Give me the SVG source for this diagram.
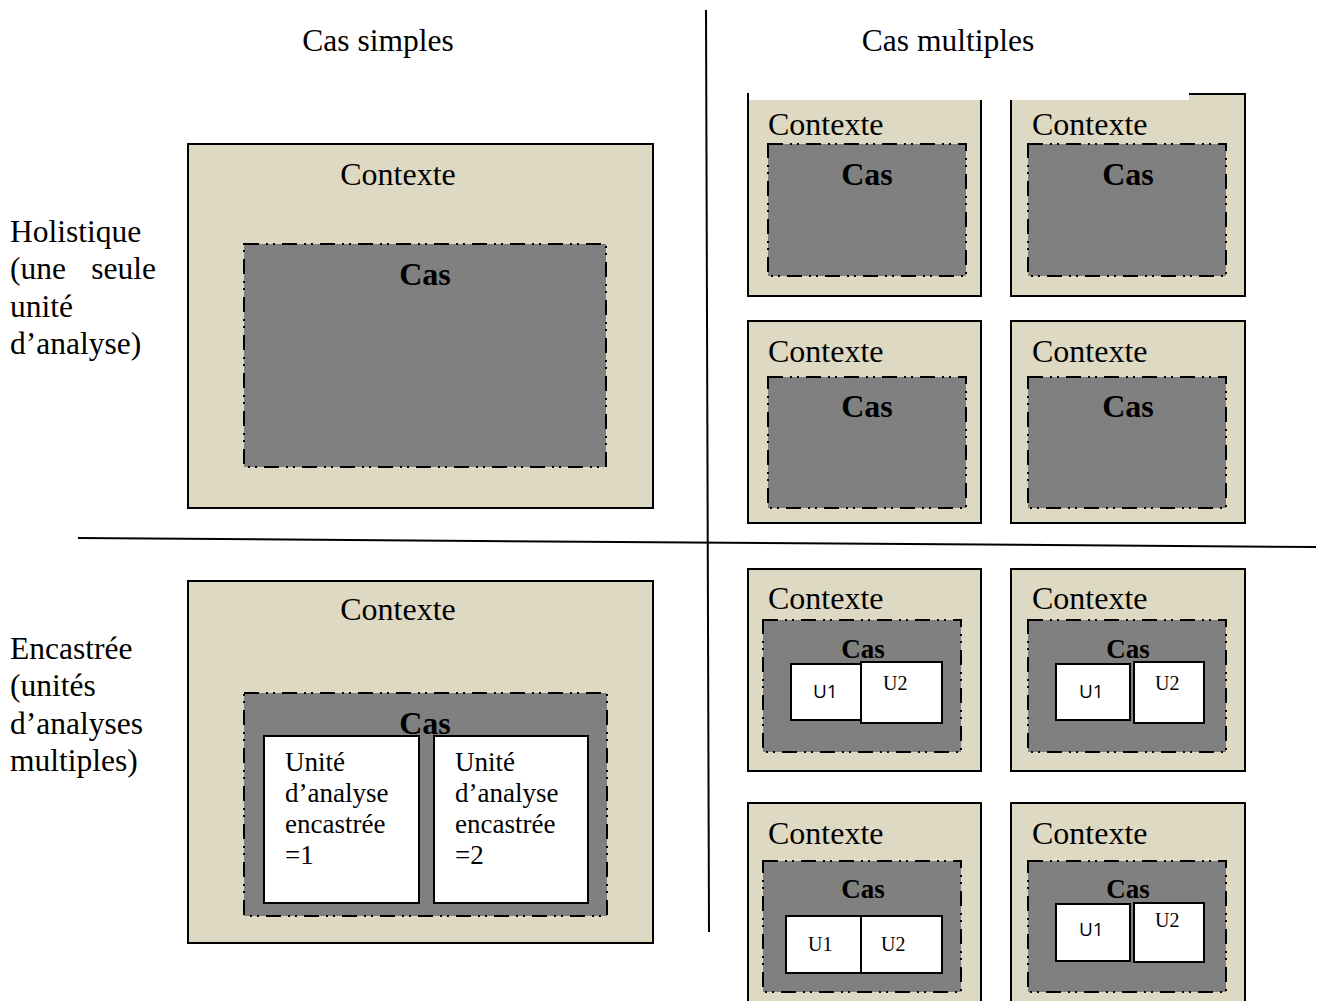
<svg xmlns="http://www.w3.org/2000/svg" width="1322" height="1001" viewBox="0 0 1322 1001">
<style>
.ctx{fill:#DDD9C3;stroke:#000;stroke-width:2}
.cas{fill:#808080;stroke:#000;stroke-width:2;stroke-dasharray:15 7 2 5 2 7}
.unit{fill:#fff;stroke:#000;stroke-width:2}
.t{font-family:"Liberation Serif","Times New Roman",serif;fill:#000}
.h{font-size:31.5px}
.c{font-size:32px}
.cb{font-size:32px;font-weight:bold}
.cbs{font-size:27px;font-weight:bold}
.u{font-size:27px}
.s{font-family:"Open Sans","Liberation Sans",sans-serif;font-size:19px}
.ss{font-size:20px}
</style>
<rect width="1322" height="1001" fill="#fff"/>
<g id="connectors" stroke="#000" stroke-width="2" fill="none">
<line x1="706" y1="10" x2="709" y2="932"/>
<line x1="78" y1="538" x2="1316" y2="547"/>
</g>
<g id="headers" class="t h">
<text x="378" y="51" text-anchor="middle">Cas simples</text>
<text x="948" y="51" text-anchor="middle">Cas multiples</text>
</g>
<g id="row-labels" class="t h">
<text x="10" y="242">Holistique</text>
<text x="10" y="279">(une</text>
<text x="156" y="279" text-anchor="end">seule</text>
<text x="10" y="317">unité</text>
<text x="10" y="354">d’analyse)</text>
<text x="10" y="659">Encastrée</text>
<text x="10" y="696">(unités</text>
<text x="10" y="734">d’analyses</text>
<text x="10" y="771">multiples)</text>
</g>
<g id="simple-holistic">
<rect class="ctx" x="188" y="144" width="465" height="364"/>
<text class="t c" x="398" y="185" text-anchor="middle">Contexte</text>
<rect class="cas" x="244" y="244" width="362" height="223"/>
<text class="t cb" x="425" y="285" text-anchor="middle">Cas</text>
</g>
<g id="simple-embedded">
<rect class="ctx" x="188" y="581" width="465" height="362"/>
<text class="t c" x="398" y="620" text-anchor="middle">Contexte</text>
<rect class="cas" x="244" y="693" width="363" height="223"/>
<text class="t cb" x="425" y="734" text-anchor="middle">Cas</text>
<rect class="unit" x="264" y="736" width="155" height="167"/>
<rect class="unit" x="434" y="736" width="154" height="167"/>
<g class="t u">
<text x="285" y="771">Unité</text>
<text x="285" y="802">d’analyse</text>
<text x="285" y="833">encastrée</text>
<text x="285" y="864">=1</text>
<text x="455" y="771">Unité</text>
<text x="455" y="802">d’analyse</text>
<text x="455" y="833">encastrée</text>
<text x="455" y="864">=2</text>
</g>
</g>
<g id="multi-holistic-1">
<rect class="ctx" x="748" y="94" width="233" height="202"/>
<text class="t c" x="768" y="135">Contexte</text>
<rect class="cas" x="768" y="144" width="198" height="132"/>
<text class="t cb" x="867" y="185" text-anchor="middle">Cas</text>
</g>
<g id="multi-holistic-2">
<rect class="ctx" x="1011" y="94" width="234" height="202"/>
<text class="t c" x="1032" y="135">Contexte</text>
<rect class="cas" x="1028" y="144" width="198" height="132"/>
<text class="t cb" x="1128" y="185" text-anchor="middle">Cas</text>
</g>
<rect id="top-mask" x="749" y="86" width="440" height="14" fill="#fff"/>
<g id="multi-holistic-3">
<rect class="ctx" x="748" y="321" width="233" height="202"/>
<text class="t c" x="768" y="362">Contexte</text>
<rect class="cas" x="768" y="377" width="198" height="131"/>
<text class="t cb" x="867" y="417" text-anchor="middle">Cas</text>
</g>
<g id="multi-holistic-4">
<rect class="ctx" x="1011" y="321" width="234" height="202"/>
<text class="t c" x="1032" y="362">Contexte</text>
<rect class="cas" x="1028" y="377" width="198" height="131"/>
<text class="t cb" x="1128" y="417" text-anchor="middle">Cas</text>
</g>
<g id="multi-embedded-1">
<rect class="ctx" x="748" y="569" width="233" height="202"/>
<text class="t c" x="768" y="609">Contexte</text>
<rect class="cas" x="763" y="620" width="198" height="132"/>
<text class="t cbs" x="863" y="658" text-anchor="middle">Cas</text>
<rect class="unit" x="791" y="664" width="70" height="56"/>
<rect class="unit" x="861" y="662" width="81" height="61"/>
<text class="s" x="813" y="698">U1</text>
<text class="t ss" x="883" y="690">U2</text>
</g>
<g id="multi-embedded-2">
<rect class="ctx" x="1011" y="569" width="234" height="202"/>
<text class="t c" x="1032" y="609">Contexte</text>
<rect class="cas" x="1028" y="620" width="198" height="132"/>
<text class="t cbs" x="1128" y="658" text-anchor="middle">Cas</text>
<rect class="unit" x="1056" y="664" width="74" height="56"/>
<rect class="unit" x="1134" y="662" width="70" height="61"/>
<text class="s" x="1079" y="698">U1</text>
<text class="t ss" x="1155" y="690">U2</text>
</g>
<g id="multi-embedded-3">
<rect class="ctx" x="748" y="803" width="233" height="210"/>
<text class="t c" x="768" y="844">Contexte</text>
<rect class="cas" x="763" y="861" width="198" height="131"/>
<text class="t cbs" x="863" y="898" text-anchor="middle">Cas</text>
<rect class="unit" x="786" y="916" width="75" height="57"/>
<rect class="unit" x="861" y="916" width="81" height="57"/>
<text class="t ss" x="808" y="951">U1</text>
<text class="t ss" x="881" y="951">U2</text>
</g>
<g id="multi-embedded-4">
<rect class="ctx" x="1011" y="803" width="234" height="210"/>
<text class="t c" x="1032" y="844">Contexte</text>
<rect class="cas" x="1028" y="861" width="198" height="131"/>
<text class="t cbs" x="1128" y="898" text-anchor="middle">Cas</text>
<rect class="unit" x="1056" y="904" width="74" height="57"/>
<rect class="unit" x="1134" y="903" width="70" height="59"/>
<text class="s" x="1079" y="936">U1</text>
<text class="t ss" x="1155" y="927">U2</text>
</g>
</svg>
